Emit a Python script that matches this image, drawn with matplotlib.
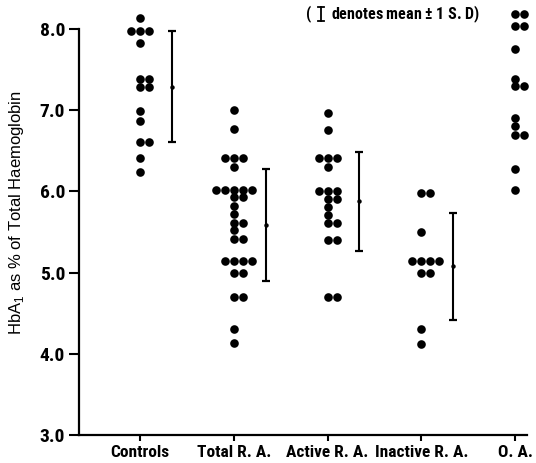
import numpy as np
import matplotlib
matplotlib.use("Agg")
import matplotlib.pyplot as plt
from matplotlib.lines import Line2D
from matplotlib import font_manager

# ---------------- data ----------------
categories = ["Controls", "Total R. A.", "Active R. A.", "Inactive R. A.", "O. A."]

controls = [8.13, 7.98, 7.98, 7.98, 7.83, 7.39, 7.39, 7.28, 7.28, 6.99, 6.87,
            6.61, 6.61, 6.41, 6.24]
total_ra = [7.00, 6.77, 6.41, 6.41, 6.41, 6.30, 6.02, 6.02, 6.02, 6.02, 6.02,
            5.93, 5.93, 5.82, 5.72, 5.61, 5.61, 5.52, 5.41, 5.41,
            5.14, 5.14, 5.14, 5.14, 5.00, 5.00, 4.70, 4.70, 4.31, 4.13]
active_ra = [6.97, 6.76, 6.41, 6.41, 6.41, 6.30, 6.01, 6.01, 6.01, 5.91, 5.91,
             5.81, 5.71, 5.61, 5.61, 5.40, 5.40, 4.70, 4.70]
inactive_ra = [5.98, 5.98, 5.50, 5.14, 5.14, 5.14, 5.14, 5.00, 5.00, 4.31, 4.12]
oa = [8.18, 8.18, 8.04, 8.04, 7.75, 7.39, 7.30, 7.30, 6.90, 6.80, 6.69, 6.69,
      6.28, 6.02]

groups = [controls, total_ra, active_ra, inactive_ra, oa]

# mean +/- 1 S.D. (none shown for O. A.)
sd_groups = [0, 1, 2, 3]
means = [7.29, 5.59, 5.88, 5.08]
sds = [0.68, 0.69, 0.61, 0.66]

yticks = [3.0, 4.0, 5.0, 6.0, 7.0, 8.0]
ytick_labels = ["3.0", "4.0", "5.0", "6.0", "7.0", "8.0"]
ylabel = r"HbA$_\mathregular{1}$ as % of Total Haemoglobin"
note = "denotes mean $\\mathregular{\\pm}$ 1 S. D)"

names = {f.name for f in font_manager.fontManager.ttflist}
cond = [n for n in ["Roboto Condensed", "Liberation Sans Narrow", "DejaVu Sans Condensed"] if n in names]
fam = cond + ["Liberation Sans", "DejaVu Sans"]

# ---------------- figure ----------------
W, H = 536, 463
fig = plt.figure(figsize=(W / 100, H / 100), dpi=100)
ax = fig.add_axes([79 / W, 1 - 435 / H, (527 - 79) / W, (435 - 29) / H])
ax.set_xlim(-0.651, 4.128)
ax.set_ylim(3.0, 8.0)

tick_font = dict(family=fam, weight="bold")

# dot columns: identical values placed side by side
step = 0.096
for gi, vals in enumerate(groups):
    uniq = []
    for v in vals:
        if v not in uniq:
            uniq.append(v)
    xs, ys = [], []
    for v in uniq:
        n = vals.count(v)
        offs = np.arange(n) - (n - 1) // 2
        for o in offs:
            xs.append(gi + o * step)
            ys.append(v)
    ax.plot(xs, ys, "o", color="black", ms=6.2, mec="none", clip_on=False, zorder=3)

# mean +/- SD bars
bx = [g + 0.34 for g in sd_groups]
ax.errorbar(bx, means, yerr=sds, fmt="o", color="black", ms=3.2, mec="none",
            elinewidth=1.5, capsize=3.0, capthick=1.6, clip_on=False)

# axes styling
for s in ["top", "right"]:
    ax.spines[s].set_visible(False)
ax.spines["left"].set_linewidth(1.6)
ax.spines["bottom"].set_linewidth(1.6)
ax.set_yticks(yticks)
ax.set_yticklabels(ytick_labels, fontsize=14, **tick_font)
ax.set_xticks(range(len(categories)))
ax.set_xticklabels(categories, fontsize=12.5, **tick_font)
ax.tick_params(axis="y", direction="out", length=7, width=1.5, pad=3)
ax.tick_params(axis="x", direction="out", length=4, width=1.5, pad=3)

fig.text(17 / W, 1 - 213 / H, ylabel, rotation=90, ha="center", va="center",
         fontsize=12, family=["Liberation Sans", "DejaVu Sans"])

# note at top with a small I-bar glyph
fig.text(306 / W, 1 - 14 / H, "(", ha="left", va="center", fontsize=11.5, **tick_font)
gx = 321 / W
fig.add_artist(Line2D([gx, gx], [1 - 7 / H, 1 - 21 / H], transform=fig.transFigure,
                      color="black", lw=1.3))
for yy in (7, 21):
    fig.add_artist(Line2D([gx - 3 / W, gx + 3 / W], [1 - yy / H, 1 - yy / H],
                          transform=fig.transFigure, color="black", lw=1.3))
fig.text(331 / W, 1 - 14 / H, note, ha="left", va="center", fontsize=11.5, **tick_font)

fig.savefig("out.png", dpi=100, facecolor="white")
